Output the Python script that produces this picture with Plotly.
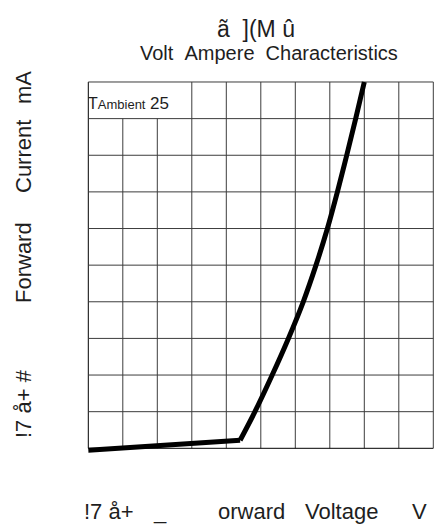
import plotly.graph_objects as go

# ---- data ----
voltage = [0.0, 4.40, 4.83, 5.33, 5.80, 6.23, 6.60, 6.93, 7.22, 7.49, 7.75, 8.00]
current = [-0.05, 0.22, 1.0, 2.0, 3.0, 4.0, 5.0, 6.0, 7.0, 8.0, 9.0, 10.0]
knee_index = 1

grid_x = list(range(0, 11))
grid_y = list(range(0, 11))
label_cell_cols = [1, 2]   # vertical lines interrupted by the label cell

title_text = "ã\u00a0\u00a0](M\u00a0û"
subtitle_text = "Volt\u00a0\u00a0Ampere\u00a0\u00a0Characteristics"
y_title_parts = ["!7 å+ #", "Forward", "Current", "mA"]
x_title_parts = ["!7 å+", "_", "orward", "Voltage", "V"]
cell_label = "T<span style='font-size:13px'>Ambient</span>\u00a0<span style='font-size:17px'>25</span>"

W, H = 434, 526
ML, MR, MT, MB = 85, 0, 78, 70
FONT = "Liberation Sans, Arial, sans-serif"
TXT = "#1e1e1e"

def px_x(p):
    return (p - ML) / (W - ML - MR)

def px_y(p):
    return (H - MB - p) / (H - MT - MB)

fig = go.Figure()
# flat leakage part
fig.add_trace(go.Scatter(x=voltage[:knee_index + 1], y=current[:knee_index + 1], mode="lines",
                         line=dict(color="black", width=5),
                         hoverinfo="skip", showlegend=False))
# conducting part
fig.add_trace(go.Scatter(x=voltage[knee_index:], y=current[knee_index:], mode="lines",
                         line=dict(color="black", width=5, shape="spline", smoothing=1.0),
                         hoverinfo="skip", showlegend=False))

shapes = []
gc = "#3c3c3c"
for gx in grid_x:
    top = 9 if gx in label_cell_cols else 10
    col = "#000000" if gx == 0 else gc
    shapes.append(dict(type="line", xref="x", yref="y", x0=gx, x1=gx, y0=0, y1=top,
                       line=dict(color=col, width=1), layer="below"))
for gy in grid_y:
    col = "#000000" if gy == 0 else gc
    shapes.append(dict(type="line", xref="x", yref="y", x0=0, x1=10, y0=gy, y1=gy,
                       line=dict(color=col, width=1), layer="below"))

def ann(text, cx, cy, size, angle=0):
    return dict(text=text, x=px_x(cx), y=px_y(cy), xref="paper", yref="paper",
                showarrow=False, textangle=angle,
                font=dict(family=FONT, size=size, color=TXT),
                xanchor="center", yanchor="middle")

annotations = [
    ann(title_text, 256, 29, 23),
    ann(subtitle_text, 269, 53, 20),
]
# y-axis title pieces (rotated), centres in pixels
for part, cy in zip(y_title_parts, [404, 263, 157, 88]):
    annotations.append(ann(part, 23, cy, 22, angle=-90))
# x-axis title pieces
for part, cx in zip(x_title_parts, [109, 160, 251, 341, 419]):
    annotations.append(ann(part, cx, 511, 22))

annotations.append(dict(text=cell_label, x=0, y=9.42, xref="x", yref="y",
                        showarrow=False, font=dict(family=FONT, size=16, color=TXT),
                        xanchor="left", yanchor="middle", xshift=-2))

fig.update_layout(
    width=W, height=H,
    margin=dict(l=ML, r=MR, t=MT, b=MB),
    paper_bgcolor="white", plot_bgcolor="white",
    xaxis=dict(range=[-0.096, 10.02], visible=False, fixedrange=True),
    yaxis=dict(range=[-0.21, 10.109], visible=False, fixedrange=True),
    shapes=shapes, annotations=annotations,
)

fig.write_html("out.html", config={"displayModeBar": False},
               post_script="document.body.style.margin='0px';document.body.style.overflow='hidden';")
